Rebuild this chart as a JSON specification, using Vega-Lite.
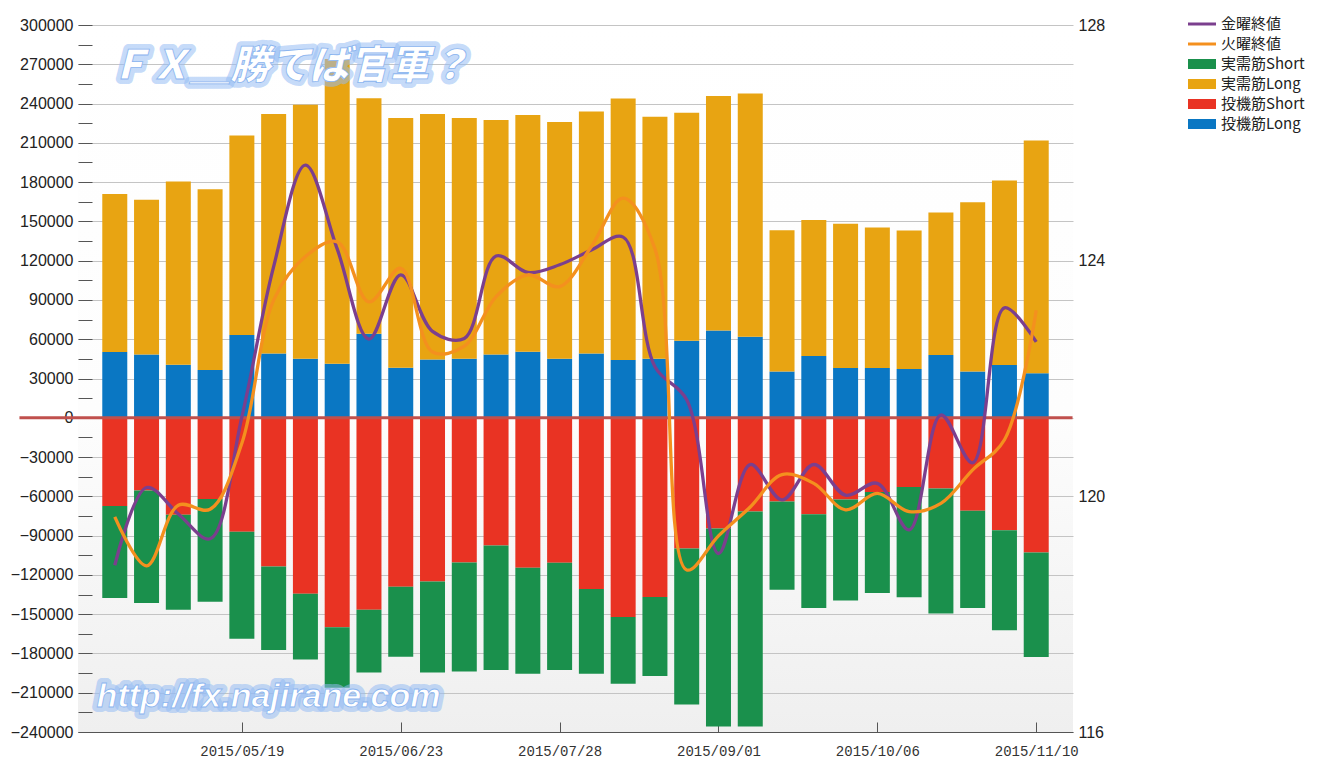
{
  "$schema": "https://vega.github.io/schema/vega-lite/v6.json",
  "width": 995,
  "height": 707,
  "autosize": {"type": "none"},
  "padding": {"left": 78, "top": 25, "right": 249, "bottom": 26},
  "background": "white",
  "config": {
    "view": {"stroke": null, "fill": {"gradient": "linear", "x1": 0, "y1": 0, "x2": 0, "y2": 1, "stops": [{"offset": 0, "color": "#ffffff"}, {"offset": 0.55, "color": "#fdfdfd"}, {"offset": 1, "color": "#efefef"}]}},
    "font": "Liberation Sans"
  },
  "data": {
    "values": [
      {"date": "2015-04-21", "投機筋Long": 50200, "実需筋Long": 120800, "投機筋Short": -67400, "実需筋Short": -70300, "金曜終値": 118.83, "火曜終値": 119.65},
      {"date": "2015-04-28", "投機筋Long": 48400, "実需筋Long": 118100, "投機筋Short": -55500, "実需筋Short": -86000, "金曜終値": 120.15, "火曜終値": 118.82},
      {"date": "2015-05-05", "投機筋Long": 40500, "実需筋Long": 140000, "投機筋Short": -74100, "実需筋Short": -72500, "金曜終値": 119.70, "火曜終値": 119.85},
      {"date": "2015-05-12", "投機筋Long": 36400, "実需筋Long": 138100, "投機筋Short": -62100, "実需筋Short": -78400, "金曜終値": 119.28, "火曜終値": 119.78},
      {"date": "2015-05-19", "投機筋Long": 63200, "実需筋Long": 152400, "投機筋Short": -87100, "実需筋Short": -81700, "金曜終値": 121.35, "火曜終値": 120.90},
      {"date": "2015-05-26", "投機筋Long": 49100, "実需筋Long": 182900, "投機筋Short": -113600, "実需筋Short": -63800, "金曜終値": 123.90, "火曜終値": 123.33},
      {"date": "2015-06-02", "投機筋Long": 45100, "実需筋Long": 193900, "投機筋Short": -134400, "実需筋Short": -50200, "金曜終値": 125.62, "火曜終値": 124.07},
      {"date": "2015-06-09", "投機筋Long": 41200, "実需筋Long": 232800, "投機筋Short": -159900, "実需筋Short": -46300, "金曜終値": 124.20, "火曜終値": 124.32},
      {"date": "2015-06-16", "投機筋Long": 64200, "実需筋Long": 179800, "投機筋Short": -146600, "実需筋Short": -47900, "金曜終値": 122.67, "火曜終値": 123.30},
      {"date": "2015-06-23", "投機筋Long": 38200, "実需筋Long": 190800, "投機筋Short": -129100, "実需筋Short": -53400, "金曜終値": 123.76, "火曜終値": 123.87},
      {"date": "2015-06-30", "投機筋Long": 44500, "実需筋Long": 187500, "投機筋Short": -125000, "実需筋Short": -69500, "金曜終値": 122.80, "火曜終値": 122.45},
      {"date": "2015-07-07", "投機筋Long": 45100, "実需筋Long": 183900, "投機筋Short": -110500, "実需筋Short": -83300, "金曜終値": 122.68, "火曜終値": 122.55},
      {"date": "2015-07-14", "投機筋Long": 48400, "実需筋Long": 179000, "投機筋Short": -97500, "実需筋Short": -95200, "金曜終値": 124.08, "火曜終値": 123.39},
      {"date": "2015-07-21", "投機筋Long": 50400, "実需筋Long": 180800, "投機筋Short": -114600, "実需筋Short": -80900, "金曜終値": 123.80, "火曜終値": 123.76},
      {"date": "2015-07-28", "投機筋Long": 45100, "実需筋Long": 180900, "投機筋Short": -110800, "実需筋Short": -81900, "金曜終値": 123.93, "火曜終値": 123.56},
      {"date": "2015-08-04", "投機筋Long": 49100, "実需筋Long": 184900, "投機筋Short": -130800, "実需筋Short": -64700, "金曜終値": 124.18, "火曜終値": 124.24},
      {"date": "2015-08-11", "投機筋Long": 44100, "実需筋Long": 199800, "投機筋Short": -152200, "実需筋Short": -51000, "金曜終値": 124.40, "火曜終値": 125.06},
      {"date": "2015-08-18", "投機筋Long": 45100, "実需筋Long": 184900, "投機筋Short": -136900, "実需筋Short": -60400, "金曜終値": 122.20, "火曜終値": 124.20},
      {"date": "2015-08-25", "投機筋Long": 58800, "実需筋Long": 174200, "投機筋Short": -99800, "実需筋Short": -119200, "金曜終値": 121.64, "火曜終値": 118.75},
      {"date": "2015-09-01", "投機筋Long": 66700, "実需筋Long": 179000, "投機筋Short": -84600, "実需筋Short": -151200, "金曜終値": 119.03, "火曜終値": 119.33},
      {"date": "2015-09-08", "投機筋Long": 61900, "実需筋Long": 185800, "投機筋Short": -71500, "実需筋Short": -164300, "金曜終値": 120.54, "火曜終値": 119.82},
      {"date": "2015-09-15", "投機筋Long": 35400, "実需筋Long": 107900, "投機筋Short": -64000, "実需筋Short": -67400, "金曜終値": 119.94, "火曜終値": 120.37},
      {"date": "2015-09-22", "投機筋Long": 47100, "実需筋Long": 103900, "投機筋Short": -73600, "実需筋Short": -71700, "金曜終値": 120.54, "火曜終値": 120.22},
      {"date": "2015-09-29", "投機筋Long": 38000, "実需筋Long": 110200, "投機筋Short": -62400, "実需筋Short": -77100, "金曜終値": 120.02, "火曜終値": 119.77},
      {"date": "2015-10-06", "投機筋Long": 38000, "実需筋Long": 107300, "投機筋Short": -56700, "実需筋Short": -77200, "金曜終値": 120.22, "火曜終値": 120.05},
      {"date": "2015-10-13", "投機筋Long": 37200, "実需筋Long": 105800, "投機筋Short": -52900, "実需筋Short": -84100, "金曜終値": 119.43, "火曜終値": 119.74},
      {"date": "2015-10-20", "投機筋Long": 47900, "実需筋Long": 108900, "投機筋Short": -54000, "実需筋Short": -95500, "金曜終値": 121.38, "火曜終値": 119.88},
      {"date": "2015-10-27", "投機筋Long": 35400, "実需筋Long": 129300, "投機筋Short": -71000, "実需筋Short": -74300, "金曜終値": 120.57, "火曜終値": 120.45},
      {"date": "2015-11-03", "投機筋Long": 40300, "実需筋Long": 141000, "投機筋Short": -86000, "実需筋Short": -76200, "金曜終値": 123.20, "火曜終値": 120.96},
      {"date": "2015-11-10", "投機筋Long": 34100, "実需筋Long": 177700, "投機筋Short": -102900, "実需筋Short": -79900, "金曜終値": 122.62, "火曜終値": 123.16}
    ]
  },
  "layer": [
    {
      "transform": [{"fold": ["投機筋Long", "実需筋Long", "投機筋Short", "実需筋Short"], "as": ["series", "value"]}],
      "mark": {"type": "bar", "size": 25},
      "encoding": {
        "x": {
          "field": "date",
          "type": "temporal",
          "scale": {"type": "utc", "domain": [{"year": 2015, "month": 4, "date": 14, "utc": true}, {"year": 2015, "month": 11, "date": 17, "utc": true}]},
          "axis": {
            "title": null,
            "values": [
              {"year": 2015, "month": 5, "date": 19, "utc": true},
              {"year": 2015, "month": 6, "date": 23, "utc": true},
              {"year": 2015, "month": 7, "date": 28, "utc": true},
              {"year": 2015, "month": 9, "date": 1, "utc": true},
              {"year": 2015, "month": 10, "date": 6, "utc": true},
              {"year": 2015, "month": 11, "date": 10, "utc": true}
            ],
            "labelExpr": "utcFormat(datum.value, '%Y/%m/%d')",
            "grid": false,
            "tickSize": -10,
            "tickColor": "#555555",
            "domainColor": "#555555",
            "labelFont": "Liberation Mono",
            "labelFontSize": 14,
            "labelColor": "#333333",
            "labelPadding": 22
          }
        },
        "y": {
          "field": "value",
          "type": "quantitative",
          "stack": "zero",
          "scale": {"domain": [-240000, 300000], "nice": false, "zero": false},
          "axis": {
            "title": null,
            "values": [-240000, -225000, -210000, -195000, -180000, -165000, -150000, -135000, -120000, -105000, -90000, -75000, -60000, -45000, -30000, -15000, 0, 15000, 30000, 45000, 60000, 75000, 90000, 105000, 120000, 135000, 150000, 165000, 180000, 195000, 210000, 225000, 240000, 255000, 270000, 285000, 300000],
            "format": "d",
            "labelExpr": "datum.value % 30000 === 0 ? datum.label : ''",
            "labelOverlap": false,
            "domain": false,
            "tickSize": -14,
            "tickColor": "#555555",
            "grid": true,
            "gridColor": "#c4c4c4",
            "gridOpacity": {"condition": {"test": "datum.value % 30000 !== 0", "value": 0}, "value": 1},
            "labelFontSize": 16,
            "labelColor": "#222222",
            "labelPadding": 19
          }
        },
        "color": {
          "field": "series",
          "type": "nominal",
          "scale": {
            "domain": ["金曜終値", "火曜終値", "実需筋Short", "実需筋Long", "投機筋Short", "投機筋Long"],
            "range": ["#7b3f8e", "#f4901e", "#1a904c", "#e8a412", "#e93323", "#0a77c3"]
          },
          "legend": {
            "title": null,
            "orient": "none",
            "legendX": 1114,
            "legendY": -11,
            "labelFont": "Noto Sans CJK JP",
            "labelFontSize": 15,
            "labelColor": "#222222",
            "symbolSize": 400,
            "rowPadding": 2,
            "labelOffset": 9,
            "symbolStrokeWidth": 0,
            "encode": {
              "symbols": {
                "update": {
                  "shape": {"signal": "datum.value === '金曜終値' || datum.value === '火曜終値' ? 'M-1.4,-0.15H1.4V0.15H-1.4Z' : 'M-1.4,-0.5H1.4V0.5H-1.4Z'"},
                  "fill": {"scale": "color", "field": "value"},
                  "stroke": {"value": "transparent"},
                  "opacity": {"value": 1}
                }
              }
            }
          }
        },
        "order": {"field": "series", "sort": "descending"}
      }
    },
    {
      "transform": [{"aggregate": [{"op": "count", "as": "n"}]}],
      "mark": {"type": "rule", "color": "#c0504d", "strokeWidth": 3},
      "encoding": {
        "x": {"datum": {"year": 2015, "month": 3, "date": 31, "utc": true}, "type": "temporal"},
        "x2": {"datum": {"year": 2015, "month": 11, "date": 18, "utc": true}},
        "y": {"datum": 0, "type": "quantitative", "scale": {"domain": [-240000, 300000], "nice": false, "zero": false}, "axis": null}
      }
    },
    {
      "transform": [{"fold": ["金曜終値", "火曜終値"], "as": ["series", "price"]}],
      "mark": {"type": "line", "interpolate": "catmull-rom", "strokeWidth": 3.3},
      "encoding": {
        "x": {
          "field": "date",
          "type": "temporal",
          "scale": {"type": "utc", "domain": [{"year": 2015, "month": 4, "date": 14, "utc": true}, {"year": 2015, "month": 11, "date": 17, "utc": true}]}
        },
        "y": {
          "field": "price",
          "type": "quantitative",
          "scale": {"domain": [116, 128], "nice": false, "zero": false},
          "axis": {
            "orient": "right",
            "title": null,
            "values": [116, 120, 124, 128],
            "grid": false,
            "domain": false,
            "ticks": false,
            "labelFontSize": 16,
            "labelColor": "#222222",
            "labelPadding": 5
          }
        },
        "color": {"field": "series", "type": "nominal"}
      }
    },
    {
      "transform": [{"aggregate": [{"op": "count", "as": "n"}]}],
      "mark": {"type": "text", "text": "ＦＸ＿勝てば官軍？", "font": "Noto Sans CJK JP", "fontSize": 40, "fontWeight": 900, "fontStyle": "italic", "align": "left", "baseline": "middle", "fill": "#cfe1fb", "stroke": "#94bcf4", "strokeWidth": 10, "strokeOpacity": 0.55, "strokeJoin": "round"},
      "encoding": {
        "x": {"datum": {"year": 2015, "month": 4, "date": 20, "utc": true}, "type": "temporal"},
        "y": {"datum": 268000, "type": "quantitative", "scale": {"domain": [-240000, 300000], "nice": false, "zero": false}, "axis": null}
      }
    },
    {
      "transform": [{"aggregate": [{"op": "count", "as": "n"}]}],
      "mark": {"type": "text", "text": "ＦＸ＿勝てば官軍？", "font": "Noto Sans CJK JP", "fontSize": 40, "fontWeight": 900, "fontStyle": "italic", "align": "left", "baseline": "middle", "fill": "#ffffff", "stroke": "#8ab4ef", "strokeWidth": 0.8},
      "encoding": {
        "x": {"datum": {"year": 2015, "month": 4, "date": 20, "utc": true}, "type": "temporal"},
        "y": {"datum": 268000, "type": "quantitative", "scale": {"domain": [-240000, 300000], "nice": false, "zero": false}, "axis": null}
      }
    },
    {
      "transform": [{"aggregate": [{"op": "count", "as": "n"}]}],
      "mark": {"type": "text", "text": "http://fx.najirane.com", "font": "Liberation Sans", "fontSize": 34, "fontWeight": "bold", "fontStyle": "italic", "align": "left", "baseline": "middle", "fill": "#cfe1fb", "stroke": "#94bcf4", "strokeWidth": 10, "strokeOpacity": 0.55, "strokeJoin": "round"},
      "encoding": {
        "x": {"datum": {"year": 2015, "month": 4, "date": 17, "utc": true}, "type": "temporal"},
        "y": {"datum": -213000, "type": "quantitative", "scale": {"domain": [-240000, 300000], "nice": false, "zero": false}, "axis": null}
      }
    },
    {
      "transform": [{"aggregate": [{"op": "count", "as": "n"}]}],
      "mark": {"type": "text", "text": "http://fx.najirane.com", "font": "Liberation Sans", "fontSize": 34, "fontWeight": "bold", "fontStyle": "italic", "align": "left", "baseline": "middle", "fill": "#ffffff", "stroke": "#8ab4ef", "strokeWidth": 0.8},
      "encoding": {
        "x": {"datum": {"year": 2015, "month": 4, "date": 17, "utc": true}, "type": "temporal"},
        "y": {"datum": -213000, "type": "quantitative", "scale": {"domain": [-240000, 300000], "nice": false, "zero": false}, "axis": null}
      }
    }
  ],
  "resolve": {"scale": {"y": "independent"}}
}
